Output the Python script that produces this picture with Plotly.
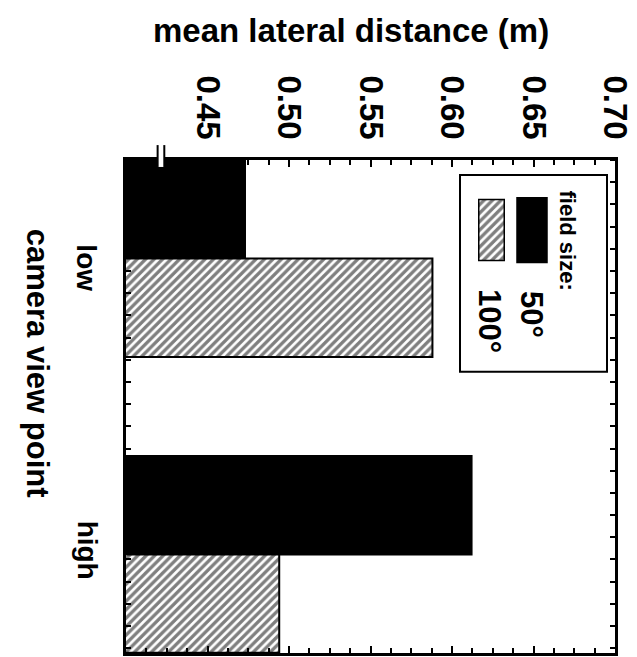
import plotly.graph_objects as go

# ---- data ----
categories = ["low", "high"]
cat_pos = [0, 1]
series_names = ["50°", "100°"]
vals_50 = [0.473, 0.612]
vals_100 = [0.588, 0.494]
x_ticks = [0.45, 0.50, 0.55, 0.60, 0.65, 0.70]
x_tick_labels = ["0.45", "0.50", "0.55", "0.60", "0.65", "0.70"]
value_title = "mean lateral distance (m)"
category_title = "camera view point"
legend_title = "field size:"

FONT = "Liberation Sans, Arial, sans-serif"
NARROW = "Liberation Sans Narrow, Arial Narrow, Liberation Sans, sans-serif"
W, H = 637, 657
L, R, T, B = 126, 22, 160, 1
PW = W - L - R
PH = H - T - B


def px(xp):
    return (xp - L) / PW


def py(yp):
    return (H - B - yp) / PH


hatch = dict(shape="/", fgcolor="black", bgcolor="white", size=6, solidity=0.55)

fig = go.Figure()
fig.add_trace(go.Bar(y=cat_pos, x=vals_50, orientation="h", name=series_names[0],
                     marker=dict(color="black", line=dict(color="black", width=2))))
fig.add_trace(go.Bar(y=cat_pos, x=vals_100, orientation="h", name=series_names[1],
                     marker=dict(color="white", pattern=hatch, line=dict(color="black", width=2))))

# legend swatch for hatched series (drawn as a tiny bar on its own axes)
fig.add_trace(go.Bar(y=[0], x=[1], orientation="h", width=[1], xaxis="x2", yaxis="y2",
                     marker=dict(color="white", pattern=hatch, line=dict(color="black", width=1.5)),
                     hoverinfo="skip"))

fig.update_layout(
    width=W, height=H,
    margin=dict(l=L, r=R, t=T, b=B, pad=0),
    paper_bgcolor="white", plot_bgcolor="white",
    showlegend=False, barmode="group", bargap=0.335, bargroupgap=0,
    font=dict(family=FONT, color="black"),
    xaxis2=dict(domain=[px(478), px(505)], anchor="y2", range=[-0.03, 1.03], visible=False),
    yaxis2=dict(domain=[py(263), py(198)], anchor="x2", range=[-0.53, 0.53], visible=False),
)

fig.layout.xaxis.update(
    range=[0.40, 0.70], side="top",
    tickmode="array", tickvals=x_ticks, ticktext=x_tick_labels, tickangle=90,
    tickfont=dict(size=33, family=FONT, color="black", weight="bold"),
    ticks="inside", ticklen=7, tickwidth=1.5, tickcolor="black",
    minor=dict(tickmode="linear", tick0=0.40, dtick=0.0125, ticks="inside",
               ticklen=5, tickwidth=1.5, tickcolor="black"),
    showline=True, linewidth=2.5, linecolor="black", mirror="allticks",
    showgrid=False, zeroline=False, ticklabelstandoff=6,
)
fig.layout.yaxis.update(
    range=[1.333, -0.333],
    tickmode="array", tickvals=cat_pos, ticktext=["", ""],
    ticks="",
    minor=dict(tickmode="linear", tick0=-0.333, dtick=0.075, ticks="inside",
               ticklen=5, tickwidth=1.5, tickcolor="black"),
    showline=True, linewidth=2.5, linecolor="black", mirror="allticks",
    showgrid=False, zeroline=False,
)

shapes = [
    # legend frame
    dict(type="rect", xref="paper", yref="paper", x0=px(460), x1=px(607), y0=py(373), y1=py(175),
         line=dict(color="black", width=2), fillcolor="rgba(0,0,0,0)", layer="above"),
    # black legend swatch
    dict(type="rect", xref="paper", yref="paper", x0=px(517), x1=px(547), y0=py(263), y1=py(198),
         line=dict(color="black", width=1.5), fillcolor="black", layer="above"),
    # axis break mark
    dict(type="rect", xref="x", yref="paper", x0=0.4194, x1=0.4235, y0=py(167), y1=py(145),
         line=dict(width=0), fillcolor="white", layer="above"),
    dict(type="line", xref="x", yref="paper", x0=0.4194, x1=0.4194, y0=py(167), y1=py(145),
         line=dict(color="black", width=2), layer="above"),
    dict(type="line", xref="x", yref="paper", x0=0.4235, x1=0.4235, y0=py(167), y1=py(145),
         line=dict(color="black", width=2), layer="above"),
]
fig.update_layout(shapes=shapes)

ann = [
    dict(text=value_title, x=px(351), y=py(30), size=33, angle=0, fam=FONT),
    dict(text=category_title, x=px(37), y=py(364), size=31, angle=90, fam=FONT),
    dict(text=categories[0], x=px(87), y=py(268), size=28, angle=90, fam=FONT),
    dict(text=categories[1], x=px(87), y=py(552), size=28, angle=90, fam=FONT),
    dict(text=legend_title, x=px(567), y=py(241), size=22, angle=90, fam=FONT),
    dict(text=series_names[0], x=px(532), y=py(315), size=31, angle=90, fam=FONT),
    dict(text=series_names[1], x=px(490), y=py(322), size=31, angle=90, fam=FONT),
]
for a in ann:
    fig.add_annotation(text=a["text"], xref="paper", yref="paper", x=a["x"], y=a["y"],
                       xanchor="center", yanchor="middle", showarrow=False, textangle=a["angle"],
                       font=dict(size=a["size"], family=a["fam"], color="black", weight="bold"))

fig.write_html("out.html")
